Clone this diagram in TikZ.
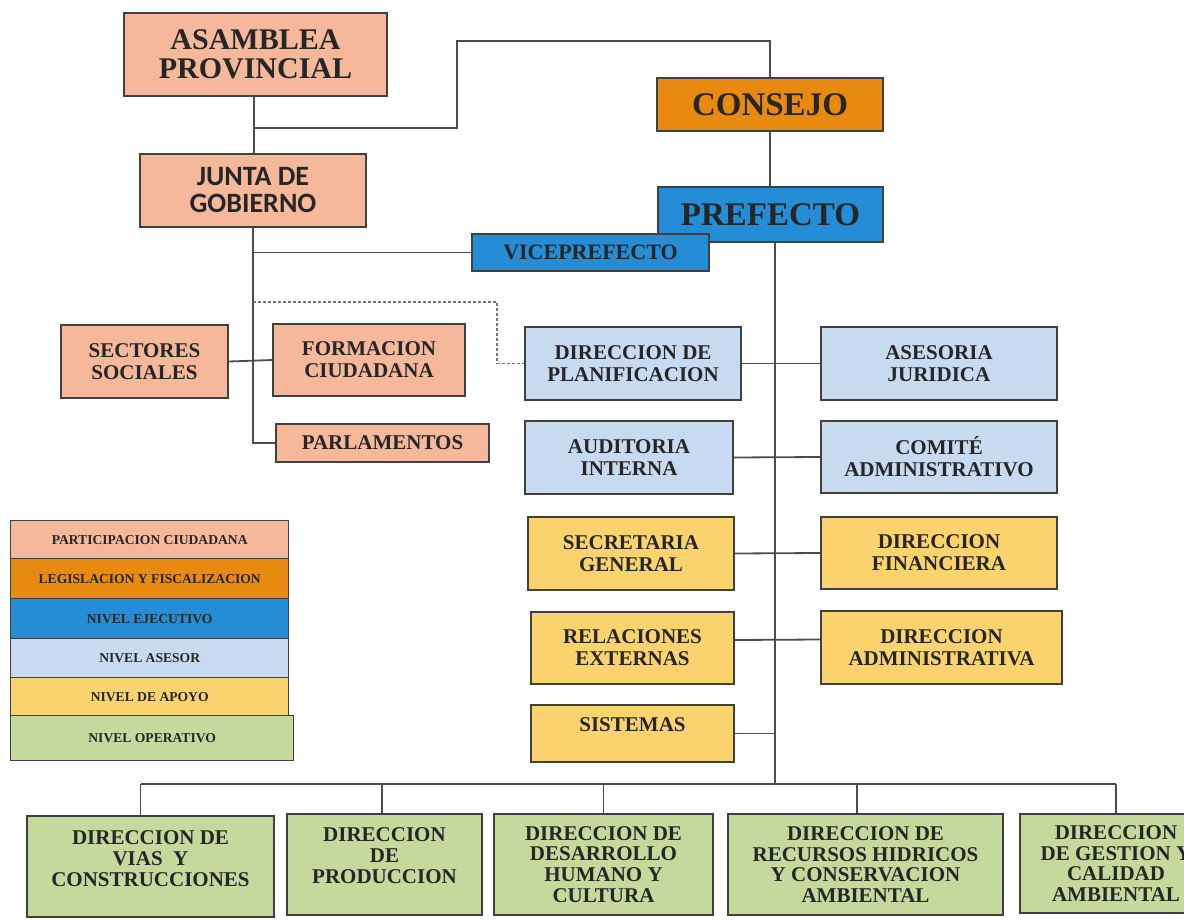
\documentclass[tikz,border=0pt]{standalone}
\usepackage{fontspec}
\setmainfont{Liberation Serif}
\newfontfamily\calibri{Carlito}
\definecolor{salmon}{RGB}{245,184,154}
\definecolor{naranja}{RGB}{233,138,16}
\definecolor{azul}{RGB}{36,141,214}
\definecolor{celeste}{RGB}{199,218,240}
\definecolor{amarillo}{RGB}{250,211,110}
\definecolor{verde}{RGB}{197,217,156}
\begin{document}
\begin{tikzpicture}[
        x=0.5pt, y=-0.5pt, % coordenadas en pixeles
        caja/.style={draw=black!75, line width=0.9pt, align=center, inner sep=1pt, text=black!85,
            font=\bfseries\fontsize{10.5}{11}\selectfont}, % cajas del organigrama
        grande/.style={caja, font=\bfseries\fontsize{15}{14.5}\selectfont},
        titulo/.style={caja, font=\bfseries\fontsize{16.5}{17}\selectfont},
        baja/.style={caja, font=\bfseries\fontsize{10.5}{10.4}\selectfont, fill=verde, minimum height=50.5pt},
        leyenda/.style={draw=black!75, line width=0.7pt, anchor=north west, minimum width=139pt, inner sep=0pt,
            text=black!85, font=\bfseries\fontsize{6.8}{7}\selectfont},
        linea/.style={draw=black!70, line width=0.9pt},
        punteada/.style={draw=black!55, line width=0.8pt, dash pattern=on 1.5pt off 1pt},
    ]
    \useasboundingbox (0,0) rectangle (1184,921);

    % nivel superior
    \node[grande, fill=salmon, minimum width=131.5pt, minimum height=41.5pt] (asam) at (255.5,54.5) {ASAMBLEA\\PROVINCIAL};
    \node[caja, fill=salmon, minimum width=113pt, minimum height=36.5pt, font=\calibri\bfseries\fontsize{14}{13.5}\selectfont] (junta) at (253,190.5) {JUNTA DE\\GOBIERNO};
    \node[titulo, fill=naranja, minimum width=113pt, minimum height=26.5pt] (consejo) at (770,104.5) {CONSEJO};
    \node[titulo, fill=azul, minimum width=112.5pt, minimum height=27.5pt] (prefecto) at (770.5,214.5) {PREFECTO};
    \node[caja, fill=azul, minimum width=118.5pt, minimum height=18.5pt, font=\bfseries\fontsize{11}{12}\selectfont] (vice) at (590.5,252.5) {VICEPREFECTO};

    % participacion ciudadana
    \node[caja, fill=salmon, minimum width=83.5pt, minimum height=36.5pt] (sect) at (144.5,361.5) {SECTORES\\SOCIALES};
    \node[caja, fill=salmon, minimum width=96pt, minimum height=36pt] (form) at (369,360) {FORMACION\\CIUDADANA};
    \node[caja, fill=salmon, minimum width=106.5pt, minimum height=19pt] (parl) at (382.5,443) {PARLAMENTOS};

    % asesor y apoyo
    \node[caja, fill=celeste, minimum width=108pt, minimum height=36.5pt] (plan) at (633,363.5) {DIRECCION DE\\PLANIFICACION};
    \node[caja, fill=celeste, minimum width=118pt, minimum height=36.5pt] (jurid) at (939,363.5) {ASESORIA\\JURIDICA};
    \node[caja, fill=celeste, minimum width=104pt, minimum height=36.5pt] (audit) at (629,457.5) {AUDITORIA\\INTERNA};
    \node[caja, fill=celeste, minimum width=118pt, minimum height=36pt] (comite) at (939,457) {COMITÉ\\ADMINISTRATIVO};
    \node[caja, fill=amarillo, minimum width=103pt, minimum height=36.5pt] (secre) at (631,553.5) {SECRETARIA\\GENERAL};
    \node[caja, fill=amarillo, minimum width=118pt, minimum height=36pt] (finan) at (939,553) {DIRECCION\\FINANCIERA};
    \node[caja, fill=amarillo, minimum width=101.5pt, minimum height=36pt] (relac) at (632.5,648) {RELACIONES\\EXTERNAS};
    \node[caja, fill=amarillo, minimum width=120.5pt, minimum height=36.5pt] (admin) at (941.5,647.5) {DIRECCION\\ADMINISTRATIVA};
    \node[caja, fill=amarillo, minimum width=101.5pt, minimum height=28.5pt, text depth=8.5pt] (sist) at (632.5,733.5) {SISTEMAS};

    % nivel operativo
    \node[baja, minimum width=123.5pt] (vias) at (150.5,866.5) {DIRECCION DE\\VIAS\ \ Y\\CONSTRUCCIONES\\[-2.4pt]\mbox{}};
    \node[baja, minimum width=97.5pt] (prod) at (384.5,864.5) {DIRECCION\\DE\\PRODUCCION\\[-1.4pt]\mbox{}};
    \node[baja, minimum width=109.5pt] (desa) at (603.5,864.5) {DIRECCION DE\\DESARROLLO\\HUMANO Y\\CULTURA};
    \node[baja, minimum width=137.5pt] (recu) at (865.5,864.5) {DIRECCION DE\\RECURSOS HIDRICOS\\Y CONSERVACION\\AMBIENTAL};
    \node[baja, minimum width=96pt, minimum height=49.5pt] (gest) at (1116,863.5) {DIRECCION\\DE GESTION Y\\CALIDAD\\AMBIENTAL};

    % leyenda
    \node[leyenda, fill=salmon, minimum height=19pt] (ley1) at (10,520) {PARTICIPACION CIUDADANA};
    \node[leyenda, fill=naranja, minimum height=20pt] (ley2) at (10,558) {LEGISLACION Y FISCALIZACION};
    \node[leyenda, fill=azul, minimum height=20pt] (ley3) at (10,598) {NIVEL EJECUTIVO};
    \node[leyenda, fill=celeste, minimum height=19.5pt] (ley4) at (10,638) {NIVEL ASESOR};
    \node[leyenda, fill=amarillo, minimum height=19pt] (ley5) at (10,677) {NIVEL DE APOYO};
    \node[leyenda, fill=verde, minimum height=22.5pt, minimum width=141.5pt] (ley6) at (10,715) {NIVEL OPERATIVO};

    % conectores
    \coordinate (j1) at (254,128);
    \coordinate (k1) at (457,41);
    \coordinate (d1) at (497,302);
    \coordinate (tr) at (775,784);
    \draw[linea] (asam.south -| j1) -- (junta.north -| j1);
    \draw[linea] (j1) -| (k1) -| (consejo.north);
    \draw[linea] (consejo.south) -- (consejo.south |- prefecto.north);
    \draw[linea] (junta.south) |- (parl.west);
    \draw[linea] (junta.south |- vice.west) -- (vice.west);
    \draw[linea] (sect.east) -- (form.west);
    \draw[punteada] (junta.south |- d1) -- (d1) |- (plan.west);
    \draw[linea] (prefecto.south -| tr) -- (tr);
    \draw[linea] (plan.east) -- (jurid.west);
    \draw[linea] (audit.east) -- (comite.west);
    \draw[linea] (secre.east) -- (finan.west);
    \draw[linea] ([yshift=4pt]relac.east) -- ([yshift=4pt]admin.west);
    \draw[linea] (sist.east) -- (sist.east -| tr);
    \draw[linea] ([xshift=-5pt]vias.north |- tr) -- (gest.north |- tr);
    \draw[linea] ([xshift=-5pt]vias.north |- tr) -- ([xshift=-5pt]vias.north);
    \draw[linea] ([xshift=-1.25pt]prod.north |- tr) -- ([xshift=-1.25pt]prod.north);
    \draw[linea] (desa.north |- tr) -- (desa.north);
    \draw[linea] ([xshift=-4.25pt]recu.north |- tr) -- ([xshift=-4.25pt]recu.north);
    \draw[linea] (gest.north |- tr) -- (gest.north);
\end{tikzpicture}
\end{document}
